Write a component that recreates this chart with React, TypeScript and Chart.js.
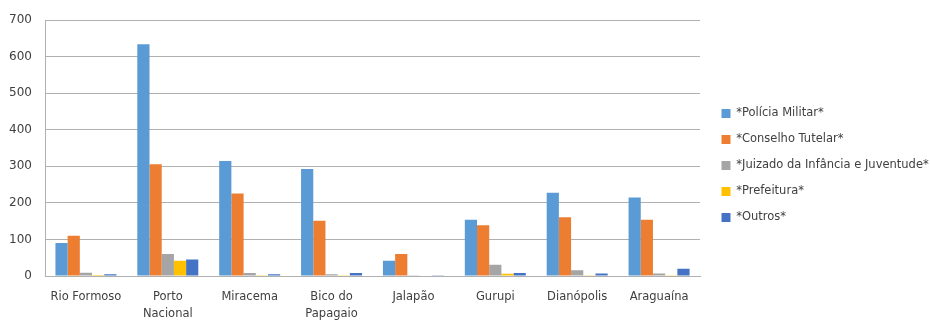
import React, { useEffect, useRef } from "react";
import { Chart, registerables } from "chart.js";

Chart.register(...registerables);

const categories: (string | string[])[] = [
  "Rio Formoso",
  ["Porto", "Nacional"],
  "Miracema",
  ["Bico do", "Papagaio"],
  "Jalapão",
  "Gurupi",
  "Dianópolis",
  "Araguaína",
];

const policiaMilitar = [90, 634, 315, 293, 42, 154, 228, 215];
const conselhoTutelar = [110, 306, 226, 151, 60, 139, 161, 154];
const juizado = [9, 60, 8, 5, 2, 31, 16, 7];
const prefeitura = [3, 42, 2, 2, 0, 6, 1, 1];
const outros = [5, 45, 5, 8, 2, 8, 7, 20];

const seriesNames = [
  "*Polícia Militar*",
  "*Conselho Tutelar*",
  "*Juizado da Infância e Juventude*",
  "*Prefeitura*",
  "*Outros*",
];
const seriesColors = ["#5B9BD5", "#ED7D31", "#A5A5A5", "#FFC000", "#4472C4"];

const yTicks = [0, 100, 200, 300, 400, 500, 600, 700];

const FONT = "'DejaVu Sans', sans-serif";

export default function App() {
  const ref = useRef<HTMLCanvasElement>(null);
  useEffect(() => {
    if (!ref.current) return;
    const allSeries = [policiaMilitar, conselhoTutelar, juizado, prefeitura, outros];
    const legendFix = {
      id: "legendFix",
      beforeUpdate(chart: any) {
        const lg = chart.legend;
        if (lg && !lg.__patched) {
          const orig = lg.fit;
          lg.fit = function () {
            orig.call(this);
            this.width = 230;
          };
          lg.__patched = true;
        }
      },
      afterLayout(chart: any) {
        const lg = chart.legend;
        if (lg) {
          lg.left = 707;
          lg.top -= 3;
          lg.bottom -= 3;
        }
      },
    };
    const chart = new Chart(ref.current, {
      type: "bar",
      data: {
        labels: categories as any,
        datasets: allSeries.map((d, i) => ({
          label: seriesNames[i],
          data: d,
          backgroundColor: seriesColors[i],
          borderWidth: 0,
          categoryPercentage: 0.745,
          barPercentage: 1,
        })),
      },
      options: {
        animation: false,
        responsive: false,
        maintainAspectRatio: false,
        layout: { padding: { top: 17, left: 0, right: 0, bottom: 0 } },
        plugins: {
          tooltip: { enabled: false },
          legend: {
            position: "right",
            align: "center",
            labels: {
              boxWidth: 9,
              boxHeight: 9,
              padding: 14.5,
              color: "#404040",
              font: { family: FONT, size: 11.5 },
            },
          },
        },
        scales: {
          x: {
            grid: { display: false, drawTicks: false },
            border: { display: true, color: "#b0b0b0" },
            ticks: {
              color: "#404040",
              font: { family: FONT, size: 11.5, lineHeight: 1.45 },
              padding: 13,
              maxRotation: 0,
              autoSkip: false,
            },
            afterFit(scale: any) {
              scale.height = 44;
            },
          },
          y: {
            min: 0,
            max: 700,
            afterBuildTicks(scale: any) {
              scale.ticks = yTicks.map((v) => ({ value: v }));
            },
            grid: { color: "#b0b0b0", drawTicks: false },
            border: { display: true, color: "#b0b0b0" },
            ticks: {
              color: "#404040",
              font: { family: FONT, size: 12 },
              padding: 13,
            },
            afterFit(scale: any) {
              scale.width = 45;
            },
          },
        },
      },
      plugins: [legendFix],
    });
    return () => chart.destroy();
  }, []);
  return (
    <div style={{ position: "fixed", left: 0, top: 0, width: 930, height: 320, background: "#fff" }}>
      <canvas ref={ref} width={930} height={320} style={{ width: 930, height: 320 }} />
    </div>
  );
}
